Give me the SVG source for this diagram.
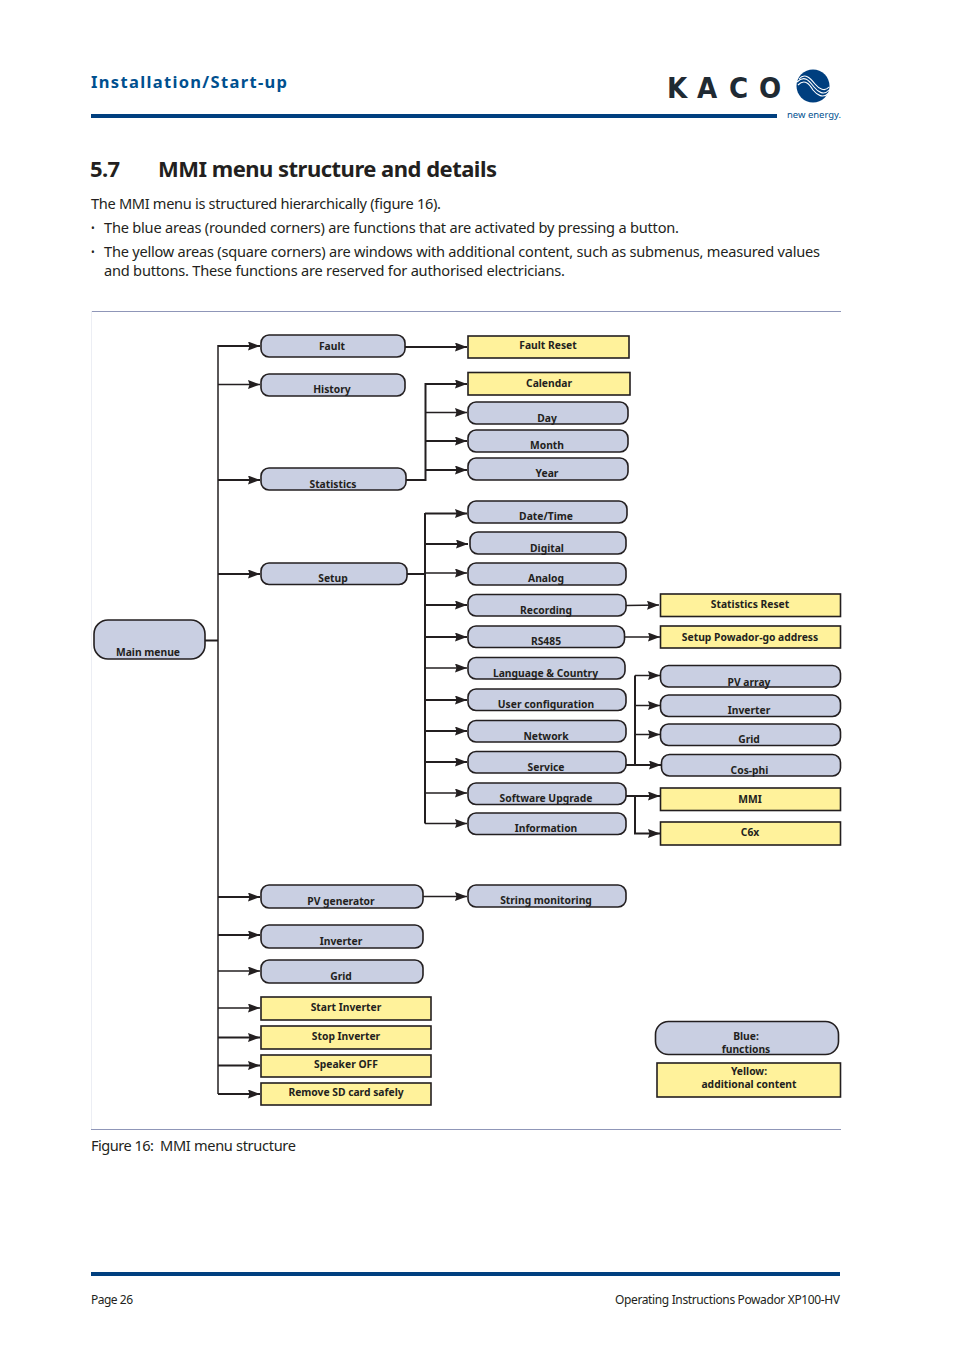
<svg xmlns="http://www.w3.org/2000/svg" width="954" height="1350" viewBox="0 0 954 1350">
<style>
text{font-family:"Noto Sans","Open Sans","Liberation Sans",sans-serif}
.b rect{fill:#c9cfe2;stroke:#231f20;stroke-width:1.6}
.y rect{fill:#fff29b;stroke:#231f20;stroke-width:1.6}
.b text,.y text{font-size:10.3px;font-weight:700;fill:#231f20;text-anchor:middle}
.p{font-size:14.6px;fill:#231f20}
.k{font-family:"DejaVu Sans Condensed","DejaVu Sans",sans-serif;font-size:29px;font-weight:700;fill:#1f2a33}
#connectors path{fill:none;stroke:#231f20;stroke-width:1.5}
#connectors path.a{marker-end:url(#ah)}
#connectors path.t{stroke-width:2}
.rule{stroke:#8f96b8;stroke-width:1}
.bar{fill:#003f7f}
</style>
<defs><marker id="ah" markerUnits="userSpaceOnUse" markerWidth="13" markerHeight="10" refX="12" refY="4.500" orient="auto"><path d="M0 0L12 4.500L0 9L1.500 4.500Z" fill="#231f20"/></marker></defs>
<rect width="954" height="1350" fill="#fff"/>
<text x="91" y="88" style="font-size:16.5px;font-weight:700;fill:#00508f" textLength="196">Installation/Start-up</text>
<rect class="bar" x="91" y="114" width="686" height="4"/>
<g id="logo">
<text class="k" x="667" y="98">K</text><text class="k" x="697" y="98">A</text><text class="k" x="729" y="98">C</text><text class="k" x="759" y="98">O</text>
<circle cx="813" cy="86" r="16.500" fill="#003f7f"/>
<path d="M797 82C805 74 810 82 814 87C818 92 824 96 829 90M798 85C805 78 810 85 813 90C817 95 823 99 829 93M799 79C805 72 811 79 815 84C819 89 825 92 829 87" fill="none" stroke="#fff" stroke-width="1.100"/>
<text x="787" y="118" style="font-size:9.500px;fill:#00508f" textLength="54">new energy.</text>
</g>
<text x="90" y="177" style="font-size:22px;font-weight:700;fill:#231f20" textLength="30">5.7</text>
<text x="158" y="177" style="font-size:22px;font-weight:700;fill:#231f20" textLength="339">MMI menu structure and details</text>
<text class="p" x="91" y="209" textLength="350">The MMI menu is structured hierarchically (figure 16).</text>
<text x="91" y="232" style="font-size:10px;fill:#231f20">•</text>
<text class="p" x="104" y="233" textLength="575">The blue areas (rounded corners) are functions that are activated by pressing a button.</text>
<text x="91" y="256" style="font-size:10px;fill:#231f20">•</text>
<text class="p" x="104" y="257" textLength="716">The yellow areas (square corners) are windows with additional content, such as submenus, measured values</text>
<text class="p" x="104" y="276" textLength="461">and buttons. These functions are reserved for authorised electricians.</text>
<path class="rule" d="M91 311.500H841M91 1129.500H841" fill="none"/>
<path d="M91.500 311V1129" stroke="#eceef4" fill="none"/>
<g id="connectors">
<path class="t" d="M205 640.500H218"/><path d="M218 345V1094"/>
<path class="a t" d="M218 346H260"/>
<path class="a" d="M218 384.500H260"/>
<path class="a t" d="M218 480H260"/>
<path class="a t" d="M218 574H260"/>
<path class="a t" d="M218 897H260"/>
<path class="a t" d="M218 935H260"/>
<path class="a" d="M218 971H260"/>
<path class="a" d="M218 1008H260"/>
<path class="a t" d="M218 1037.500H260"/>
<path class="a t" d="M218 1065.500H260"/>
<path class="a t" d="M218 1094H260"/>
<path class="a t" d="M405 347H467"/>
<path class="t" d="M406 480H425.500V383"/>
<path class="a t" d="M425.500 384H467"/>
<path class="a" d="M425.500 412.500H467"/>
<path class="a t" d="M425.500 441H467"/>
<path class="a t" d="M425.500 470H467"/>
<path class="t" d="M407 574H425M425 513V823.500"/>
<path class="a t" d="M425 513.500H467"/>
<path class="a t" d="M425 544H468"/>
<path class="a" d="M425 573H467"/>
<path class="a t" d="M425 605H467"/>
<path class="a t" d="M425 637H467"/>
<path class="a" d="M425 668H467"/>
<path class="a t" d="M425 700H467"/>
<path class="a t" d="M425 731H467"/>
<path class="a t" d="M425 762H467"/>
<path class="a" d="M425 793H467"/>
<path class="a" d="M425 823.500H467"/>
<path class="a" d="M626 605.500L659 605"/>
<path class="a" d="M625 637H660"/>
<path class="t" d="M635 675.500V765"/>
<path class="a" d="M635 675.500H660"/>
<path class="a" d="M635 705.500H660"/>
<path class="a" d="M635 734.500H660"/>
<path class="a t" d="M626 765H661"/>
<path class="a t" d="M626 796H660"/>
<path class="a t" d="M635 796V833.500H660"/>
<path class="a" d="M423 896.500H467"/>
</g>
<g id="main-menue" class="b"><rect x="94" y="620" width="111" height="39" rx="14"/><text x="148" y="656">Main menue</text></g>
<g id="fault" class="b"><rect x="261" y="335" width="144" height="22" rx="8"/><text x="332" y="350">Fault</text></g>
<g id="history" class="b"><rect x="261" y="374" width="144" height="22" rx="8"/><text x="332" y="393">History</text></g>
<g id="statistics" class="b"><rect x="261" y="468" width="145" height="22" rx="8"/><text x="333" y="488">Statistics</text></g>
<g id="setup" class="b"><rect x="261" y="563" width="146" height="21.500" rx="8"/><text x="333" y="582">Setup</text></g>
<g id="pv-generator" class="b"><rect x="261" y="885" width="162" height="23" rx="8"/><text x="341" y="905">PV generator</text></g>
<g id="inverter-main" class="b"><rect x="261" y="925" width="162" height="23" rx="8"/><text x="341" y="945">Inverter</text></g>
<g id="grid-main" class="b"><rect x="261" y="960" width="162" height="23" rx="8"/><text x="341" y="980">Grid</text></g>
<g id="start-inverter" class="y"><rect x="261" y="997" width="170" height="23"/><text x="346" y="1011">Start Inverter</text></g>
<g id="stop-inverter" class="y"><rect x="261" y="1026" width="170" height="23"/><text x="346" y="1040">Stop Inverter</text></g>
<g id="speaker-off" class="y"><rect x="261" y="1055" width="170" height="22"/><text x="346" y="1068">Speaker OFF</text></g>
<g id="remove-sd" class="y"><rect x="261" y="1083" width="170" height="22"/><text x="346" y="1096">Remove SD card safely</text></g>
<g id="fault-reset" class="y"><rect x="468" y="336" width="161" height="22"/><text x="548" y="349">Fault Reset</text></g>
<g id="calendar" class="y"><rect x="468" y="372.500" width="162" height="22.500"/><text x="549" y="387">Calendar</text></g>
<g id="day" class="b"><rect x="468" y="402" width="160" height="22" rx="8"/><text x="547" y="422">Day</text></g>
<g id="month" class="b"><rect x="468" y="430" width="160" height="22" rx="8"/><text x="547" y="449">Month</text></g>
<g id="year" class="b"><rect x="468" y="458" width="160" height="22" rx="8"/><text x="547" y="477">Year</text></g>
<g id="date-time" class="b"><rect x="468" y="501" width="159" height="22" rx="8"/><text x="546" y="520">Date/Time</text></g>
<g id="digital" class="b"><rect x="470" y="532" width="156" height="22" rx="8"/><text x="547" y="552">Digital</text></g>
<g id="analog" class="b"><rect x="468" y="563" width="158" height="22" rx="8"/><text x="546" y="582">Analog</text></g>
<g id="recording" class="b"><rect x="468" y="594.500" width="158" height="21.500" rx="8"/><text x="546" y="614">Recording</text></g>
<g id="rs485" class="b"><rect x="468" y="626" width="156.500" height="21.500" rx="8"/><text x="546" y="645">RS485</text></g>
<g id="language" class="b"><rect x="468" y="657.500" width="157" height="21.500" rx="8"/><text x="545.500" y="677">Language &amp; Country</text></g>
<g id="user-config" class="b"><rect x="468" y="689" width="158" height="21.500" rx="8"/><text x="546" y="708">User configuration</text></g>
<g id="network" class="b"><rect x="468" y="720.500" width="158" height="21.500" rx="8"/><text x="546" y="740">Network</text></g>
<g id="service" class="b"><rect x="468" y="751.500" width="158" height="21.500" rx="8"/><text x="546" y="771">Service</text></g>
<g id="software-upgrade" class="b"><rect x="468" y="783" width="158" height="21.500" rx="8"/><text x="546" y="802">Software Upgrade</text></g>
<g id="information" class="b"><rect x="468" y="813" width="158" height="21.500" rx="8"/><text x="546" y="832">Information</text></g>
<g id="string-monitoring" class="b"><rect x="468" y="885" width="158" height="22" rx="8"/><text x="546" y="904">String monitoring</text></g>
<g id="statistics-reset" class="y"><rect x="660.500" y="594" width="180" height="22.500"/><text x="750" y="608">Statistics Reset</text></g>
<g id="setup-powador" class="y"><rect x="660.500" y="626" width="180" height="22"/><text x="750" y="641">Setup Powador-go address</text></g>
<g id="pv-array" class="b"><rect x="660.500" y="665.500" width="180" height="21.500" rx="8"/><text x="749" y="686">PV array</text></g>
<g id="inverter-sub" class="b"><rect x="660.500" y="695" width="180" height="21.500" rx="8"/><text x="749" y="714">Inverter</text></g>
<g id="grid-sub" class="b"><rect x="660.500" y="724" width="180" height="21.500" rx="8"/><text x="749" y="743">Grid</text></g>
<g id="cos-phi" class="b"><rect x="661.500" y="754.500" width="179" height="21.500" rx="8"/><text x="749.500" y="774">Cos-phi</text></g>
<g id="mmi" class="y"><rect x="660.500" y="788" width="180" height="22.500"/><text x="750" y="803">MMI</text></g>
<g id="c6x" class="y"><rect x="660.500" y="822" width="180" height="23"/><text x="750" y="836">C6x</text></g>
<g id="legend-blue" class="b"><rect x="655.500" y="1021.500" width="183" height="33" rx="13"/><text x="746" y="1040">Blue:</text><text x="746" y="1053">functions</text></g>
<g id="legend-yellow" class="y"><rect x="657" y="1063" width="183.500" height="34"/><text x="749" y="1075">Yellow:</text><text x="749" y="1088">additional content</text></g>
<text class="p" x="91" y="1151" textLength="63">Figure 16:</text>
<text class="p" x="160" y="1151" textLength="136">MMI menu structure</text>
<rect class="bar" x="91" y="1272" width="749" height="4"/>
<text x="91" y="1304" style="font-size:12px;fill:#231f20" textLength="42">Page 26</text>
<text x="615" y="1304" style="font-size:12px;fill:#231f20" textLength="225">Operating Instructions Powador XP100-HV</text>
</svg>
